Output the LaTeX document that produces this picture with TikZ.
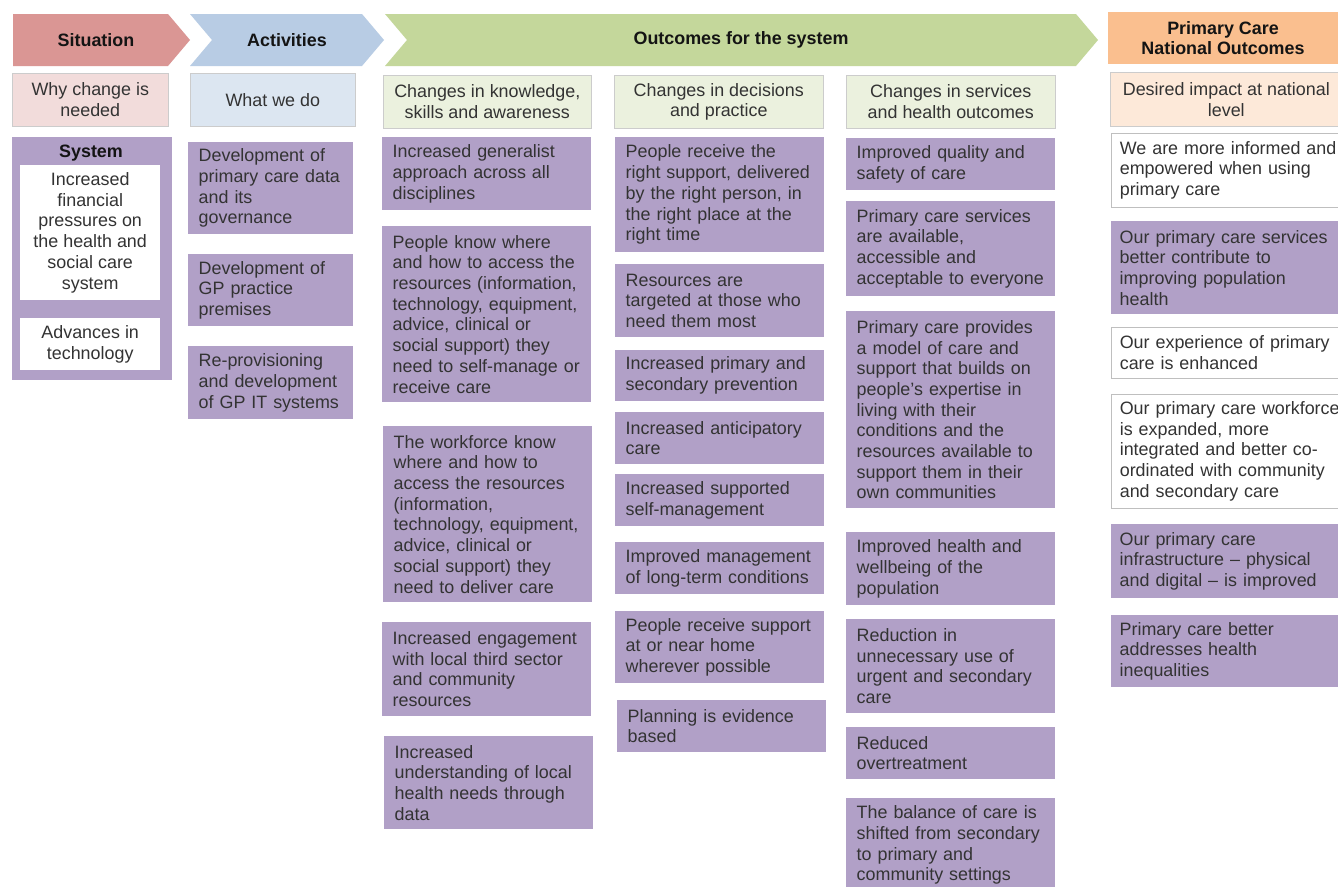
\documentclass[tikz,border=0pt]{standalone}
\usepackage{fontspec}
\setmainfont{Liberation Sans}
\usetikzlibrary{positioning}
\hyphenpenalty=10000

\definecolor{sitred}{HTML}{DA9694}
\definecolor{sitpale}{HTML}{F2DCDB}
\definecolor{actblue}{HTML}{B8CCE4}
\definecolor{actpale}{HTML}{DCE6F1}
\definecolor{outgreen}{HTML}{C4D79B}
\definecolor{outpale}{HTML}{EBF1DE}
\definecolor{natorange}{HTML}{FABF8F}
\definecolor{natpale}{HTML}{FDE9D9}
\definecolor{purp}{HTML}{B1A0C7}

\begin{document}
\begin{tikzpicture}[x=1pt,y=-1pt,
    every node/.style={font=\fontsize{17.9}{20.7}\selectfont, text=black!80},
    head/.style={font=\fontsize{17.9}{20.7}\selectfont\bfseries, text=black!92, align=center},
    sub/.style={anchor=north west, draw=black!20, line width=0.6pt, align=center, inner sep=0pt},
    pbox/.style={anchor=north west, fill=purp, align=left, inner xsep=10.5pt, inner ysep=0pt},
    wbox/.style={pbox, fill=white, draw=black!25, line width=0.6pt},
    wsit/.style={anchor=north west, fill=white, align=center, inner sep=0pt, minimum width=140},
    knowcol/.style={text width=188pt},
    actcol/.style={text width=144pt},
    natcol/.style={text width=224pt, inner xsep=8.5pt}]

    \useasboundingbox[fill=white] (0,0) rectangle (1338,886);

    \fill[sitred] (13,14) -- (168,14) -- (190,40) -- (168,66) -- (13,66) -- cycle;
        \node[head] (hsit) at (96,40) {Situation};
    \fill[actblue] (190,14) -- (362,14) -- (384,40) -- (362,66) -- (190,66) -- (212,40) -- cycle;
        \node[head] (hact) at (287,40) {Activities};
    \fill[outgreen] (385,14) -- (1076,14) -- (1098,40) -- (1076,66) -- (385,66) -- (407,40) -- cycle;
        \node[head] (hout) at (741,40) {Outcomes for the system};
    \fill[natorange] (1108,12) rectangle (1338,64);
        \node[head] (hnat) at (1223,38) {Primary Care\\National Outcomes};

    \node[sub, fill=sitpale, minimum width=156, minimum height=53] (ssit) at (12,73) {Why change is\\needed};
    \node[sub, fill=actpale, minimum width=165, minimum height=53] (sact) at (190,73) {What we do};
    \node[sub, fill=outpale, minimum width=208, minimum height=53] (sknow) at (383,75) {Changes in knowledge,\\skills and awareness};
    \node[sub, fill=outpale, minimum width=209, minimum height=53] (sdec) at (614,75) {Changes in decisions\\and practice};
    \node[sub, fill=outpale, minimum width=209, minimum height=53] (sserv) at (846,75) {Changes in services\\and health outcomes};
    \node[sub, fill=natpale, minimum width=232, minimum height=54] (snat) at (1110,72) {Desired impact at national\\level};

    \node[pbox, minimum width=160, minimum height=243] (sys) at (12,137) {};
        \node[head] (systitle) at (91,153) {System};
        \node[wsit, minimum height=135] (sys1) at (20,165) {Increased\\financial\\pressures on\\the health and\\social care\\system};
        \node[wsit, minimum height=52] (sys2) at (20,318) {Advances in\\technology};

    \node[pbox, actcol, minimum height=92] (a1) at (188,142) {Development of\\primary care data\\and its\\governance};
    \node[pbox, actcol, minimum height=72] (a2) at (188,254) {Development of\\GP practice\\premises};
    \node[pbox, actcol, minimum height=73] (a3) at (188,346) {Re-provisioning\\and development\\of GP IT systems};

    \node[pbox, knowcol, minimum height=73] (k1) at (382,137) {Increased generalist\\approach across all\\disciplines};
    \node[pbox, knowcol, minimum height=176] (k2) at (382,226) {People know where\\and how to access the\\resources (information,\\technology, equipment,\\advice, clinical or\\social support) they\\need to self-manage or\\receive care};
    \node[pbox, knowcol, minimum height=176] (k3) at (383,426) {The workforce know\\where and how to\\access the resources\\(information,\\technology, equipment,\\advice, clinical or\\social support) they\\need to deliver care};
    \node[pbox, knowcol, minimum height=94] (k4) at (382,622) {Increased engagement\\with local third sector\\and community\\resources};
    \node[pbox, knowcol, minimum height=93] (k5) at (384,736) {Increased\\understanding of local\\health needs through\\data};

    \node[pbox, knowcol, minimum height=115] (d1) at (615,137) {People receive the\\right support, delivered\\by the right person, in\\the right place at the\\right time};
    \node[pbox, knowcol, minimum height=73] (d2) at (615,264) {Resources are\\targeted at those who\\need them most};
    \node[pbox, knowcol, minimum height=51] (d3) at (615,350) {Increased primary and\\secondary prevention};
    \node[pbox, knowcol, minimum height=52] (d4) at (615,412) {Increased anticipatory\\care};
    \node[pbox, knowcol, minimum height=52] (d5) at (615,474) {Increased supported\\self-management};
    \node[pbox, knowcol, minimum height=52] (d6) at (615,542) {Improved management\\of long-term conditions};
    \node[pbox, knowcol, minimum height=72] (d7) at (615,611) {People receive support\\at or near home\\wherever possible};
    \node[pbox, knowcol, minimum height=52] (d8) at (617,700) {Planning is evidence\\based};

    \node[pbox, knowcol, minimum height=52] (s1) at (846,138) {Improved quality and\\safety of care};
    \node[pbox, knowcol, minimum height=95] (s2) at (846,201) {Primary care services\\are available,\\accessible and\\acceptable to everyone};
    \node[pbox, knowcol, minimum height=197] (s3) at (846,311) {Primary care provides\\a model of care and\\support that builds on\\people's expertise in\\living with their\\conditions and the\\resources available to\\support them in their\\own communities};
    \node[pbox, knowcol, minimum height=73] (s4) at (846,532) {Improved health and\\wellbeing of the\\population};
    \node[pbox, knowcol, minimum height=94] (s5) at (846,619) {Reduction in\\unnecessary use of\\urgent and secondary\\care};
    \node[pbox, knowcol, minimum height=52] (s6) at (846,727) {Reduced\\overtreatment};
    \node[pbox, knowcol, minimum height=94] (s7) at (846,798) {The balance of care is\\shifted from secondary\\to primary and\\community settings};

    \node[wbox, natcol, minimum height=74] (n1) at (1111,133) {We are more informed and\\empowered when using\\primary care};
    \node[pbox, natcol, minimum height=93] (n2) at (1111,221) {Our primary care services\\better contribute to\\improving population\\health};
    \node[wbox, natcol, minimum height=51] (n3) at (1111,327) {Our experience of primary\\care is enhanced};
    \node[wbox, natcol, minimum height=114] (n4) at (1111,394) {Our primary care workforce\\is expanded, more\\integrated and better co-\\ordinated with community\\and secondary care};
    \node[pbox, natcol, minimum height=74] (n5) at (1111,524) {Our primary care\\infrastructure -- physical\\and digital -- is improved};
    \node[pbox, natcol, minimum height=72] (n6) at (1111,615) {Primary care better\\addresses health\\inequalities};

\end{tikzpicture}
\end{document}
